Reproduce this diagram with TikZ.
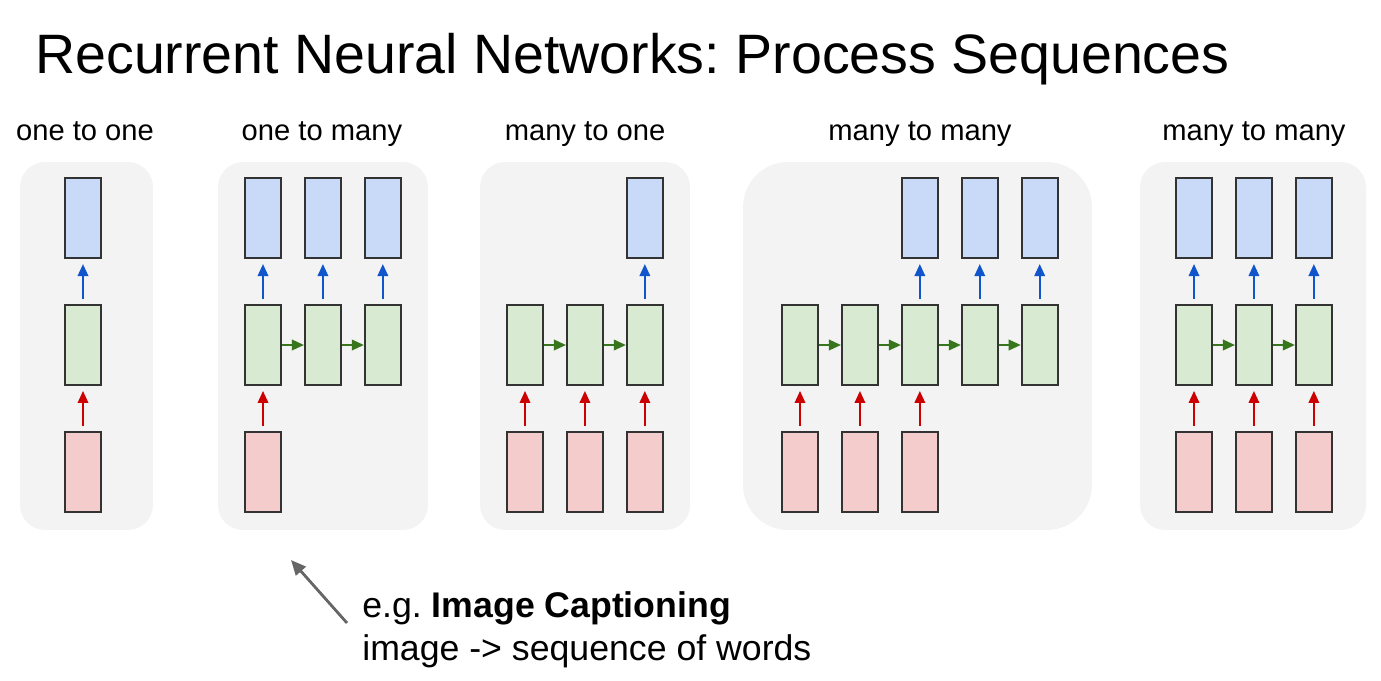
\documentclass[tikz,border=0pt]{standalone}
\usepackage{fontspec}
\setmainfont{Liberation Sans}
\usepackage{xcolor}
\usepackage{tikz}
\usetikzlibrary{arrows.meta,positioning}
\definecolor{outblue}{HTML}{C9DAF8}
\definecolor{hidgreen}{HTML}{D9EAD3}
\definecolor{inred}{HTML}{F4CCCC}
\definecolor{arrblue}{HTML}{1155CC}
\definecolor{arrgreen}{HTML}{38761D}
\definecolor{arrred}{HTML}{CC0000}
\definecolor{panelgray}{HTML}{F3F3F3}
\definecolor{edgegray}{HTML}{333333}
\definecolor{notegray}{HTML}{666666}
\frenchspacing

\begin{document}
\begin{tikzpicture}[
  x=0.02cm, y=-0.02cm,
  node distance=0.9cm and 0.44cm,
  cell/.style={draw=edgegray, line width=1.1pt, minimum width=0.72cm, minimum height=1.6cm, inner sep=0pt},
  outcell/.style={cell, fill=outblue},
  hidcell/.style={cell, fill=hidgreen},
  incell/.style={cell, fill=inred},
  panel/.style={fill=panelgray, rounded corners=0.5cm, inner sep=0pt, minimum height=7.36cm},
  caption/.style={font=\fontsize{16.6}{20}\selectfont, anchor=base, inner sep=0pt},
  note/.style={font=\fontsize{20.3}{24}\selectfont, anchor=base west, inner sep=0pt},
  tip/.style={-{Triangle[length=0.24cm,width=0.21cm]}, line width=1.1pt},
  toout/.style={tip, draw=arrblue, shorten <=0.1cm, shorten >=0.1cm},
  tonext/.style={tip, draw=arrgreen},
  fromin/.style={tip, draw=arrred, shorten <=0.1cm, shorten >=0.1cm}
]
  \useasboundingbox (0,0) rectangle (1381,680);

  \node[anchor=base west, inner sep=0pt, font=\fontsize{31.6}{38}\selectfont] (title) at (35,73) {Recurrent Neural Networks: Process Sequences};

  % panels
  \node[panel, minimum width=2.66cm] (pone) at (86.5,346) {};
  \node[panel, minimum width=4.2cm] (ptwo) at (323,346) {};
  \node[panel, minimum width=4.2cm] (pthree) at (585,346) {};
  \node[panel, minimum width=6.98cm, rounded corners=0.9cm] (pfour) at (917.5,346) {};
  \node[panel, minimum width=4.52cm] (pfive) at (1253,346) {};

  \node[caption] (lone) at (85,140) {one to one};
  \node[caption] (ltwo) at (322,140) {one to many};
  \node[caption] (lthree) at (585,140) {many to one};
  \node[caption] (lfour) at (920,140) {many to many};
  \node[caption] (lfive) at (1254,140) {many to many};

  % one to one
  \node[hidcell] (h11) at (83,345) {};
  \node[outcell, above=of h11] (o11) {};
  \node[incell, below=of h11] (i11) {};
  \draw[toout] (h11) -- (o11);
  \draw[fromin] (i11) -- (h11);

  % one to many
  \node[hidcell] (h21) at (263,345) {};
  \node[hidcell, right=of h21] (h22) {};
  \node[hidcell, right=of h22] (h23) {};
  \node[outcell, above=of h21] (o21) {};
  \node[outcell, above=of h22] (o22) {};
  \node[outcell, above=of h23] (o23) {};
  \node[incell, below=of h21] (i21) {};
  \draw[toout] (h21) -- (o21);
  \draw[toout] (h22) -- (o22);
  \draw[toout] (h23) -- (o23);
  \draw[tonext] (h21) -- (h22);
  \draw[tonext] (h22) -- (h23);
  \draw[fromin] (i21) -- (h21);

  % many to one
  \node[hidcell] (h31) at (525,345) {};
  \node[hidcell, right=of h31] (h32) {};
  \node[hidcell, right=of h32] (h33) {};
  \node[outcell, above=of h33] (o33) {};
  \node[incell, below=of h31] (i31) {};
  \node[incell, below=of h32] (i32) {};
  \node[incell, below=of h33] (i33) {};
  \draw[toout] (h33) -- (o33);
  \draw[tonext] (h31) -- (h32);
  \draw[tonext] (h32) -- (h33);
  \draw[fromin] (i31) -- (h31);
  \draw[fromin] (i32) -- (h32);
  \draw[fromin] (i33) -- (h33);

  % many to many, delayed
  \node[hidcell] (h41) at (800,345) {};
  \node[hidcell, right=of h41] (h42) {};
  \node[hidcell, right=of h42] (h43) {};
  \node[hidcell, right=of h43] (h44) {};
  \node[hidcell, right=of h44] (h45) {};
  \node[outcell, above=of h43] (o43) {};
  \node[outcell, above=of h44] (o44) {};
  \node[outcell, above=of h45] (o45) {};
  \node[incell, below=of h41] (i41) {};
  \node[incell, below=of h42] (i42) {};
  \node[incell, below=of h43] (i43) {};
  \draw[toout] (h43) -- (o43);
  \draw[toout] (h44) -- (o44);
  \draw[toout] (h45) -- (o45);
  \draw[tonext] (h41) -- (h42);
  \draw[tonext] (h42) -- (h43);
  \draw[tonext] (h43) -- (h44);
  \draw[tonext] (h44) -- (h45);
  \draw[fromin] (i41) -- (h41);
  \draw[fromin] (i42) -- (h42);
  \draw[fromin] (i43) -- (h43);

  % many to many, synced
  \node[hidcell] (h51) at (1194,345) {};
  \node[hidcell, right=of h51] (h52) {};
  \node[hidcell, right=of h52] (h53) {};
  \node[outcell, above=of h51] (o51) {};
  \node[outcell, above=of h52] (o52) {};
  \node[outcell, above=of h53] (o53) {};
  \node[incell, below=of h51] (i51) {};
  \node[incell, below=of h52] (i52) {};
  \node[incell, below=of h53] (i53) {};
  \draw[toout] (h51) -- (o51);
  \draw[toout] (h52) -- (o52);
  \draw[toout] (h53) -- (o53);
  \draw[tonext] (h51) -- (h52);
  \draw[tonext] (h52) -- (h53);
  \draw[fromin] (i51) -- (h51);
  \draw[fromin] (i52) -- (h52);
  \draw[fromin] (i53) -- (h53);

  % annotation
  \node[note] (eg) at (362,617) {e.g. \textbf{Image Captioning}};
  \node[note] (egsub) at (362,660) {image -> sequence of words};
  \coordinate (egtail) at (347,623);
  \coordinate (egtip) at (291,560);
  \draw[-{Triangle[length=0.3cm,width=0.26cm]}, line width=1.6pt, draw=notegray] (egtail) -- (egtip);
\end{tikzpicture}
\end{document}
